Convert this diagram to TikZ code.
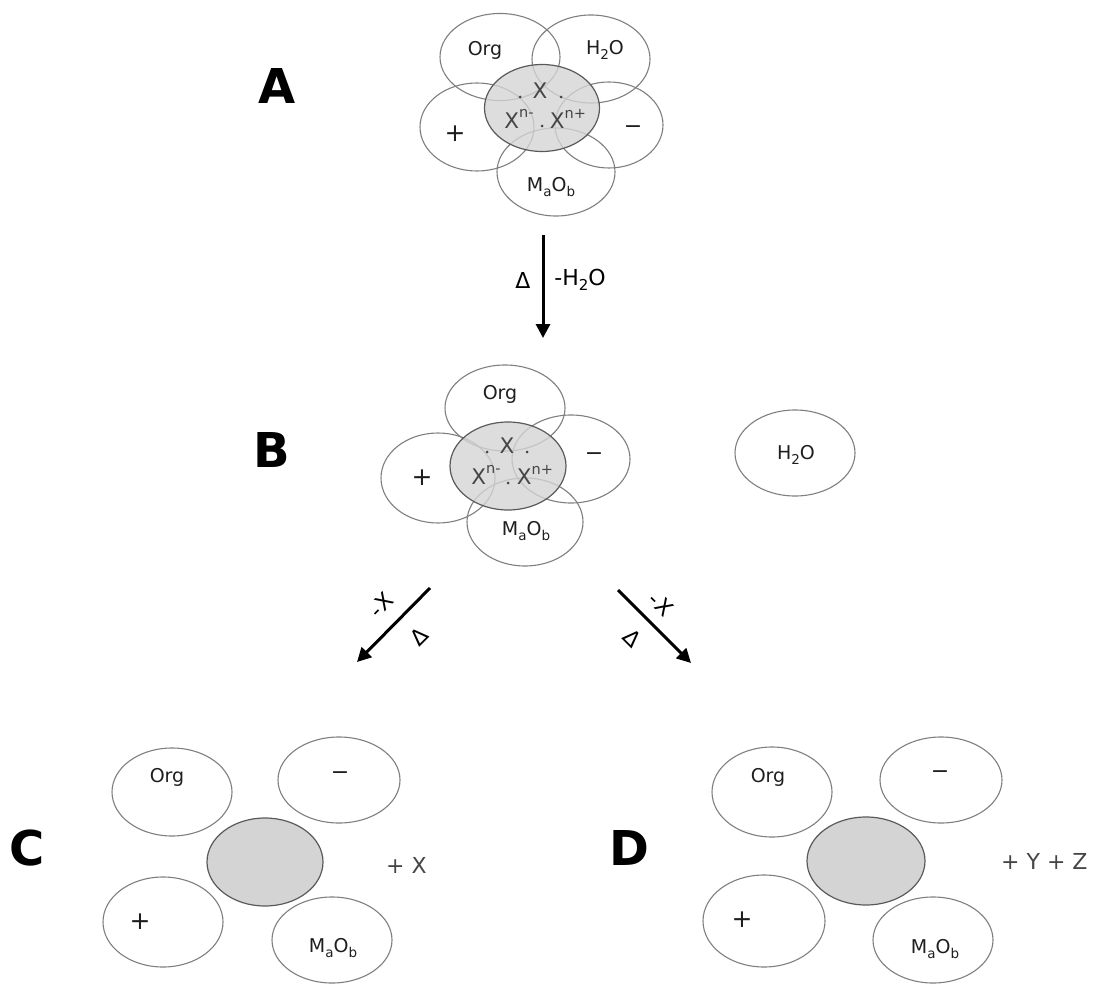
\documentclass[tikz,border=0pt]{standalone}
\usepackage{fontspec}
\setmainfont{DejaVu Sans}
\usetikzlibrary{shapes.geometric,arrows.meta}
\definecolor{ringc}{HTML}{7F7F7F}
\definecolor{corefill}{HTML}{D4D4D4}
\definecolor{coreline}{HTML}{5A5A5A}
\definecolor{txt}{HTML}{1E1E1E}
\definecolor{soft}{HTML}{454545}
\newcommand\lblfont{\fontsize{19}{22}\selectfont}
\newcommand\pmfont{\fontsize{25}{28}\selectfont}
\newcommand\mnfont{\fontsize{22}{26}\selectfont}
\newcommand\xfont{\fontsize{21.5}{25}\selectfont}
\newcommand\bigfont{\fontsize{48}{56}\selectfont\bfseries}
\newcommand\mysub[1]{\raisebox{-0.22em}{\fontsize{13.5}{13.5}\selectfont #1}}
\newcommand\mysup[1]{\raisebox{0.5em}{\fontsize{14.5}{14.5}\selectfont #1}}
\newcommand\mysubx[1]{\raisebox{-0.22em}{\fontsize{15}{15}\selectfont #1}}
\tikzset{
  x=1pt, y=-1pt,
  ring/.style={ellipse, draw=ringc, line width=1.1pt, inner sep=0pt},
  core/.style={ellipse, draw=coreline, line width=1.2pt, fill=corefill, fill opacity=0.8, inner sep=0pt},
  lbl/.style={text=txt, font=\lblfont, inner sep=0pt},
  pm/.style={text=txt, font=\pmfont, inner sep=0pt},
  mn/.style={text=txt, font=\mnfont, inner sep=0pt},
  xl/.style={text=soft, font=\xfont, inner sep=0pt},
  big/.style={text=black, font=\bigfont, inner sep=0pt},
  plus/.style={text=soft, font=\fontsize{22}{26}\selectfont, inner sep=0pt},
  arr/.style={line width=3pt, -{Triangle[length=14pt,width=14pt]}},
  alabel/.style={text=black, font=\fontsize{22}{26}\selectfont, inner sep=0pt},
}
\begin{document}
\begin{tikzpicture}
\useasboundingbox (0,0) rectangle (1101,987);
% ---------------- A ----------------
\node[big] (labA) at (277,86) {A};
\node[ring, minimum width=120, minimum height=87] (aOrg) at (500,57) {};
\node[ring, minimum width=118, minimum height=88] (aH) at (591,59) {};
\node[ring, minimum width=114, minimum height=88] (aP) at (477,127) {};
\node[ring, minimum width=108, minimum height=86] (aM) at (609,125) {};
\node[ring, minimum width=118, minimum height=88] (aO) at (556,172) {};
\node[core, minimum width=115, minimum height=87] (aC) at (542,108) {};
\node[lbl] (aOrgT) at (485,50) {Org};
\node[lbl] (aHT) at (605,50) {H\mysub{2}O};
\node[pm] (aPT) at (455,134) {+};
\node[mn] (aMT) at (633,130) {−};
\node[lbl] (aOT) at (551,187) {M\mysub{a}O\mysub{b}};
\node[xl] (aX) at (540,91) {X};
\node[xl] (aXm) at (519,119) {X\mysup{n-}};
\node[xl] (aXp) at (568,119) {X\mysup{n+}};
\fill[soft] (520,97) circle (1.5) (561,97) circle (1.5) (542,126) circle (1.5);
% arrow A -> B
\coordinate (a1s) at (543,235);
\coordinate (a1e) at (543,338);
\draw[arr] (a1s) -- (a1e);
\node[alabel] (dl1) at (523,280) {Δ};
\node[alabel] (hl1) at (580,280) {-H\mysubx{2}O};
% ---------------- B ----------------
\node[big] (labB) at (272,450) {B};
\node[ring, minimum width=120, minimum height=86] (bOrg) at (505,408) {};
\node[ring, minimum width=114, minimum height=90] (bP) at (438,478) {};
\node[ring, minimum width=118, minimum height=88] (bM) at (571,459) {};
\node[ring, minimum width=116, minimum height=88] (bO) at (525,522) {};
\node[core, minimum width=116, minimum height=88] (bC) at (508,466) {};
\node[ring, minimum width=120, minimum height=86] (bH) at (795,453) {};
\node[lbl] (bOrgT) at (500,394) {Org};
\node[pm] (bPT) at (422,478) {+};
\node[mn] (bMT) at (594,457) {−};
\node[lbl] (bOT) at (526,531) {M\mysub{a}O\mysub{b}};
\node[lbl] (bHT) at (796,455) {H\mysub{2}O};
\node[xl] (bX) at (507,446) {X};
\node[xl] (bXm) at (486,475) {X\mysup{n-}};
\node[xl] (bXp) at (535,475) {X\mysup{n+}};
\fill[soft] (487,452) circle (1.5) (527,452) circle (1.5) (508,483) circle (1.5);
% arrows B -> C, B -> D
\coordinate (a2s) at (430,588);
\coordinate (a2e) at (357,662);
\draw[arr] (a2s) -- (a2e);
\coordinate (a3s) at (618,590);
\coordinate (a3e) at (691,663);
\draw[arr] (a3s) -- (a3e);
\node[alabel, rotate=45] (x2) at (381,605) {-\kern1pt X};
\node[alabel, rotate=45] (d2) at (419,637) {Δ};
\node[alabel, rotate=-45] (x3) at (661,604) {-\kern1pt X};
\node[alabel, rotate=-45] (d3) at (632,638) {Δ};
% ---------------- C ----------------
\node[big] (labC) at (27,848) {C};
\node[ring, minimum width=120, minimum height=88] (cOrg) at (172,792) {};
\node[ring, minimum width=122, minimum height=86] (cM) at (339,780) {};
\node[core, fill opacity=1, minimum width=116, minimum height=88] (cC) at (265,862) {};
\node[ring, minimum width=120, minimum height=90] (cP) at (163,922) {};
\node[ring, minimum width=120, minimum height=86] (cO) at (332,940) {};
\node[lbl] (cOrgT) at (167,777) {Org};
\node[mn] (cMT) at (340,776) {−};
\node[pm] (cPT) at (140,922) {+};
\node[lbl] (cOT) at (333,948) {M\mysub{a}O\mysub{b}};
\node[plus, anchor=west] (cX) at (386,865) {+ X};
% ---------------- D ----------------
\node[big] (labD) at (629,848) {D};
\node[ring, minimum width=120, minimum height=90] (dOrg) at (772,792) {};
\node[ring, minimum width=122, minimum height=86] (dM) at (941,780) {};
\node[core, fill opacity=1, minimum width=118, minimum height=88] (dC) at (866,861) {};
\node[ring, minimum width=122, minimum height=92] (dP) at (764,921) {};
\node[ring, minimum width=120, minimum height=86] (dO) at (933,940) {};
\node[lbl] (dOrgT) at (768,777) {Org};
\node[mn] (dMT) at (940,775) {−};
\node[pm] (dPT) at (742,920) {+};
\node[lbl] (dOT) at (935,949) {M\mysub{a}O\mysub{b}};
\node[plus, anchor=west] (dYZ) at (1001,861) {+ Y + Z};
\end{tikzpicture}
\end{document}
